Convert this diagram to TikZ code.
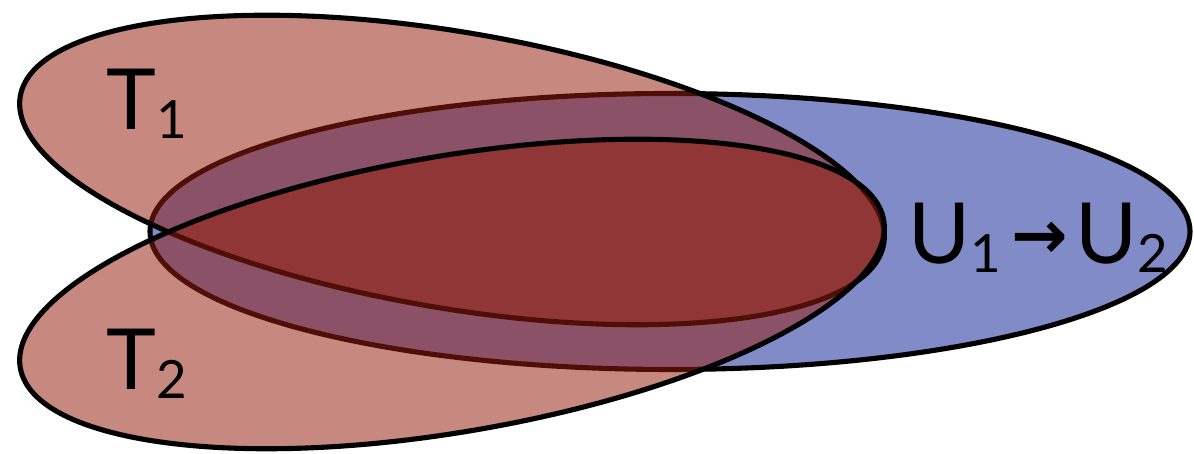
\documentclass[tikz,border=0pt]{standalone}
\usepackage{fontspec}
\setmainfont{Lato}
\newfontfamily\arrowfont{DejaVu Sans Bold}
\usetikzlibrary{positioning}
\definecolor{setBlue}{RGB}{128,139,200}
\definecolor{setRed}{RGB}{150,30,15}
\newcommand{\setidx}[1]{\raisebox{-2.3pt}{\fontsize{15}{15}\selectfont #1}}
\newcommand{\maparrow}{\hspace{3pt}\raisebox{1.5pt}{\scalebox{0.8}{\arrowfont →}}\hspace{2pt}}

\begin{document}
\begin{tikzpicture}[
    % U set (opaque, bottom layer)
    uset/.style={
        fill=setBlue,
        draw=black,
        line width=1.45pt
    },
    % T sets (see-through red)
    tset/.style={
        fill=setRed,
        fill opacity=0.53,
        draw=black,
        line width=1.45pt
    },
    % Set labels
    setlabel/.style={
        inner sep=0pt,
        anchor=base west,
        font=\fontsize{24}{28}\selectfont
    }
]
\useasboundingbox (0,0) rectangle (11.94,4.54);

% --- U SET ---
\draw[uset] (6.70,2.225) ellipse [x radius=5.20, y radius=1.38];

% --- T SETS ---
\draw[tset, rotate around={-9.7:(4.52,2.84)}] (4.52,2.84) ellipse [x radius=4.38, y radius=1.38];
\draw[tset, rotate around={9.7:(4.52,1.60)}] (4.52,1.60) ellipse [x radius=4.38, y radius=1.38];

% --- LABELS ---
\node[setlabel] (T1Label) at (1.06,3.24) {T\setidx{1}};
\node[setlabel] (T2Label) at (1.06,0.64) {T\setidx{2}};
\node[setlabel] (ULabel) at (9.08,1.90) {U\setidx{1}\maparrow U\setidx{2}};

\end{tikzpicture}
\end{document}
